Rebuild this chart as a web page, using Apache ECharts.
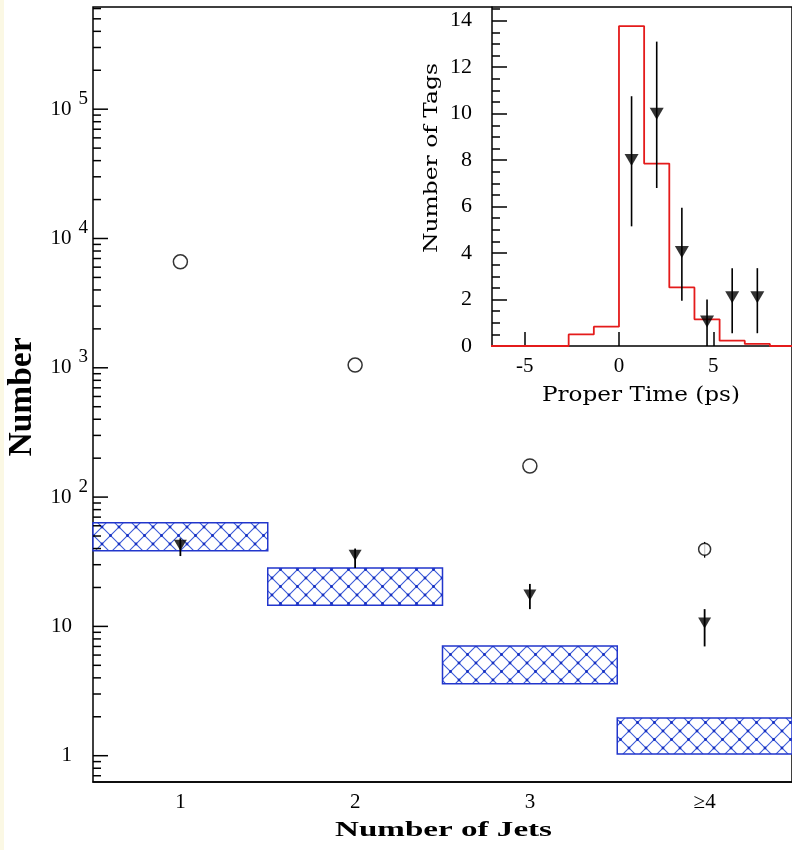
<!DOCTYPE html>
<html>
<head>
<meta charset="utf-8">
<script src="https://cdn.jsdelivr.net/npm/echarts@6/dist/echarts.min.js"></script>
<style>
  html, body { margin: 0; padding: 0; background: #fff; }
  #chart { width: 792px; height: 850px; }
</style>
</head>
<body>
<div id="chart"></div>
<script>
// ---- Main panel: events per jet multiplicity ----
const jetCategories = ['1', '2', '3', '≥4'];
// all events (open circles)
const allEvents     = [6600, 1050, 174, 39.5];
const allEventsLow  = [6600, 1050, 174, 34];
const allEventsHigh = [6600, 1050, 174, 45];
// tagged events (filled triangles) with uncertainties
const taggedEvents  = [42.5, 35.5, 17.5, 10.6];
const taggedLow     = [35, 28.3, 13.6, 7.0];
const taggedHigh    = [48, 40, 21.3, 13.6];
// expected background band (hatched boxes)
const bandLow  = [38.5, 14.6, 3.6, 1.03];
const bandHigh = [63.4, 28.3, 7.05, 1.96];
// y-axis decades and their exponents for the labels
const yDecades   = [1, 10, 100, 1000, 10000, 100000];
const yExponents = [0, 1, 2, 3, 4, 5];

// ---- Inset: proper time distribution ----
const histEdges   = [-8, -2.667, -1.333, 0, 1.333, 2.667, 4, 5.333, 6.667, 8, 10];
const histHeights = [0, 0.5, 0.83, 13.77, 7.85, 2.52, 1.15, 0.23, 0.09, 0, 0];
const tagTimes    = [0.667, 2.0, 3.333, 4.667, 6.0, 7.333];
const tagCounts   = [8.0, 10.0, 4.05, 1.05, 2.1, 2.1];
const tagCountLow = [5.15, 6.8, 1.95, 0, 0.55, 0.55];
const tagCountHigh= [10.75, 13.1, 5.95, 2.0, 3.35, 3.35];
const insetXTicks = [-5, 0, 5];
const insetYTicks = [0, 2, 4, 6, 8, 10, 12, 14];

// minor tick positions (2..9 within each decade on the log axis, halves on the inset)
const yMinorTicks = [0.7, 0.8, 0.9];
for (let d = 1; d <= 100000; d *= 10) {
  for (let k = 2; k <= 9; k++) if (k * d <= 6.1e5) yMinorTicks.push(k * d);
}
const insetYMinor = [];
for (let v = 0.5; v < 14.6; v += 0.5) if (v % 2 !== 0) insetYMinor.push(v);

const SERIF = '"Liberation Serif", "Times New Roman", serif';
const DSERIF = '"DejaVu Serif", serif';

// blue cross-hatch tile
const hatch = (function () {
  const s = 17;
  const c = document.createElement('canvas');
  c.width = s; c.height = s;
  const g = c.getContext('2d');
  g.fillStyle = '#ffffff';
  g.fillRect(0, 0, s, s);
  g.strokeStyle = '#3a5ad8';
  g.lineWidth = 1.1;
  g.beginPath();
  g.moveTo(0, 0); g.lineTo(s, s);
  g.moveTo(s, 0); g.lineTo(0, s);
  g.stroke();
  g.fillStyle = '#1830c0';
  [[s / 2, s / 2], [0, 0], [s, 0], [0, s], [s, s]].forEach(function (p) {
    g.beginPath(); g.arc(p[0], p[1], 1.4, 0, Math.PI * 2); g.fill();
  });
  return c;
})();

function fitScale(text, font, target) {
  const ctx = document.createElement('canvas').getContext('2d');
  ctx.font = font;
  return target / ctx.measureText(text).width;
}

function errorBarRender(width) {
  return function (params, api) {
    const lo = api.coord([api.value(0), api.value(1)]);
    const hi = api.coord([api.value(0), api.value(2)]);
    return {
      type: 'line',
      shape: { x1: lo[0], y1: lo[1], x2: hi[0], y2: hi[1] },
      style: { stroke: '#000', lineWidth: width }
    };
  };
}

const chart = echarts.init(document.getElementById('chart'), null, { renderer: 'canvas' });

const fontJets = 'bold 20px ' + SERIF;
const fontNumber = 'bold 33px ' + SERIF;
const fontTags = '19px ' + DSERIF;
const fontTime = '20px ' + DSERIF;

// tick marks on the log axis: [category slot, value, 1 = decade / 0 = minor]
const logTickData = yDecades.map(function (v) { return [0, v, 1]; })
  .concat(yMinorTicks.map(function (v) { return [0, v, 0]; }));

const option = {
  backgroundColor: '#ffffff',
  animation: false,
  grid: [
    { left: 93, top: 7, width: 702, height: 775, show: true, borderColor: '#000', borderWidth: 1.5, backgroundColor: 'transparent' },
    { left: 492, top: 7, width: 300, height: 339, show: false }
  ],
  xAxis: [
    {
      type: 'category', gridIndex: 0, data: jetCategories, boundaryGap: true,
      axisLine: { lineStyle: { color: '#000', width: 1.5 } },
      axisTick: { inside: true, alignWithLabel: true, length: 13, lineStyle: { color: '#000', width: 1.5 } },
      axisLabel: { color: '#000', fontSize: 21, fontFamily: SERIF, margin: 10 },
      splitLine: { show: false }
    },
    {
      type: 'value', gridIndex: 1, min: -6.73, max: 9.17,
      axisLine: { onZero: false, lineStyle: { color: '#000', width: 1.5 } },
      axisTick: { customValues: insetXTicks, inside: true, length: 14, lineStyle: { color: '#000', width: 1.5 } },
      axisLabel: { customValues: insetXTicks, color: '#000', fontSize: 21, fontFamily: SERIF, margin: 10 },
      splitLine: { show: false }
    }
  ],
  yAxis: [
    {
      type: 'log', gridIndex: 0, min: 0.626, max: 6.17e5, position: 'left',
      axisLine: { lineStyle: { color: '#000', width: 1.5 } },
      axisTick: { show: false },
      axisLabel: {
        customValues: yDecades, margin: 5, color: '#000',
        formatter: function (v) {
          const p = yExponents[yDecades.findIndex(function (d) { return Math.abs(d - v) / d < 1e-6; })];
          if (p === 0) return '{b|1}{e| }';
          if (p === 1) return '{b|10}{e| }';
          return '{b|10}{s|' + p + '}';
        },
        rich: {
          b: { fontSize: 21, lineHeight: 40, fontFamily: SERIF, color: '#000' },
          s: { fontSize: 19, lineHeight: 20, verticalAlign: 'top', fontFamily: SERIF, color: '#000', padding: [0, 0, 0, 7] },
          e: { fontSize: 19, width: 16, fontFamily: SERIF }
        }
      },
      splitLine: { show: false }
    },
    {
      type: 'value', gridIndex: 1, min: 0, max: 14.59,
      axisLine: { onZero: false, lineStyle: { color: '#000', width: 1.5 } },
      axisTick: { customValues: insetYTicks, inside: true, length: 15, lineStyle: { color: '#000', width: 1.5 } },
      axisLabel: { customValues: insetYTicks, color: '#000', fontSize: 22, fontFamily: SERIF, margin: 20 },
      splitLine: { show: false }
    },
    {
      type: 'value', gridIndex: 1, min: 0, max: 14.59, position: 'left', offset: 0,
      axisLine: { show: false, onZero: false },
      axisTick: { customValues: insetYMinor, inside: true, length: 8, lineStyle: { color: '#000', width: 1.5 } },
      axisLabel: { show: false },
      splitLine: { show: false }
    }
  ],
  series: [
    {
      name: 'logTicks', type: 'custom', xAxisIndex: 0, yAxisIndex: 0, z: 6, clip: false,
      data: logTickData,
      renderItem: function (params, api) {
        const y = api.coord([0, api.value(1)])[1];
        const x0 = params.coordSys.x;
        const len = api.value(2) ? 15 : 8;
        return {
          type: 'line',
          shape: { x1: x0, y1: y, x2: x0 + len, y2: y },
          style: { stroke: '#000', lineWidth: 1.5 }
        };
      }
    },
    {
      name: 'band', type: 'custom', xAxisIndex: 0, yAxisIndex: 0, z: 2,
      data: jetCategories.map(function (c, i) { return [i, bandLow[i], bandHigh[i]]; }),
      renderItem: function (params, api) {
        const lo = api.coord([api.value(0), api.value(1)]);
        const hi = api.coord([api.value(0), api.value(2)]);
        const w = api.size([1, 0])[0];
        return {
          type: 'rect',
          shape: { x: lo[0] - w / 2, y: hi[1], width: w, height: lo[1] - hi[1] },
          style: { fill: { image: hatch, repeat: 'repeat' }, stroke: '#2236cc', lineWidth: 1.5 }
        };
      }
    },
    {
      name: 'all', type: 'scatter', xAxisIndex: 0, yAxisIndex: 0, z: 3,
      data: allEvents.map(function (v, i) { return [i, v]; }),
      symbol: 'circle',
      symbolSize: function (v, p) { return p.dataIndex === 3 ? 12 : 14; },
      itemStyle: { color: '#fff', borderColor: '#000', borderWidth: 1.5 }
    },
    {
      name: 'allErr', type: 'custom', xAxisIndex: 0, yAxisIndex: 0, z: 2,
      data: allEvents.map(function (v, i) { return [i, allEventsLow[i], allEventsHigh[i]]; }),
      renderItem: errorBarRender(1.3)
    },
    {
      name: 'taggedErr', type: 'custom', xAxisIndex: 0, yAxisIndex: 0, z: 4,
      data: taggedEvents.map(function (v, i) { return [i, taggedLow[i], taggedHigh[i]]; }),
      renderItem: errorBarRender(1.8)
    },
    {
      name: 'tagged', type: 'scatter', xAxisIndex: 0, yAxisIndex: 0, z: 5,
      data: taggedEvents.map(function (v, i) { return [i, v]; }),
      symbol: 'triangle', symbolRotate: 180, symbolSize: [13, 11],
      itemStyle: { color: '#000' }
    },
    {
      name: 'expected', type: 'line', xAxisIndex: 1, yAxisIndex: 1, z: 3,
      data: histEdges.map(function (x, i) { return [x, histHeights[i]]; }),
      step: 'end', showSymbol: false, clip: true,
      lineStyle: { color: '#e41b1b', width: 1.8 }
    },
    {
      name: 'tagsErr', type: 'custom', xAxisIndex: 1, yAxisIndex: 1, z: 4,
      data: tagTimes.map(function (t, i) { return [t, tagCountLow[i], tagCountHigh[i]]; }),
      renderItem: errorBarRender(1.6)
    },
    {
      name: 'tags', type: 'scatter', xAxisIndex: 1, yAxisIndex: 1, z: 5,
      data: tagTimes.map(function (t, i) { return [t, tagCounts[i]]; }),
      symbol: 'triangle', symbolRotate: 180, symbolSize: [14, 12],
      itemStyle: { color: '#000' }
    }
  ],
  graphic: [
    { type: 'rect', left: 0, top: 0, z: -10, shape: { width: 4, height: 850 }, style: { fill: '#fbf8e4' } },
    {
      type: 'text', x: 22, y: 397, rotation: Math.PI / 2,
      scaleX: fitScale('Number', fontNumber, 119),
      style: { text: 'Number', font: fontNumber, fill: '#000', align: 'center', verticalAlign: 'middle' }
    },
    {
      type: 'text', x: 443.5, y: 831,
      scaleX: fitScale('Number of Jets', fontJets, 217),
      style: { text: 'Number of Jets', font: fontJets, fill: '#000', align: 'center', verticalAlign: 'middle' }
    },
    {
      type: 'text', x: 432, y: 158, rotation: Math.PI / 2,
      scaleX: fitScale('Number of Tags', fontTags, 190),
      style: { text: 'Number of Tags', font: fontTags, fill: '#000', align: 'center', verticalAlign: 'middle' }
    },
    {
      type: 'text', x: 641, y: 396,
      scaleX: fitScale('Proper Time (ps)', fontTime, 198),
      style: { text: 'Proper Time (ps)', font: fontTime, fill: '#000', align: 'center', verticalAlign: 'middle' }
    }
  ]
};

chart.setOption(option);
</script>
</body>
</html>
